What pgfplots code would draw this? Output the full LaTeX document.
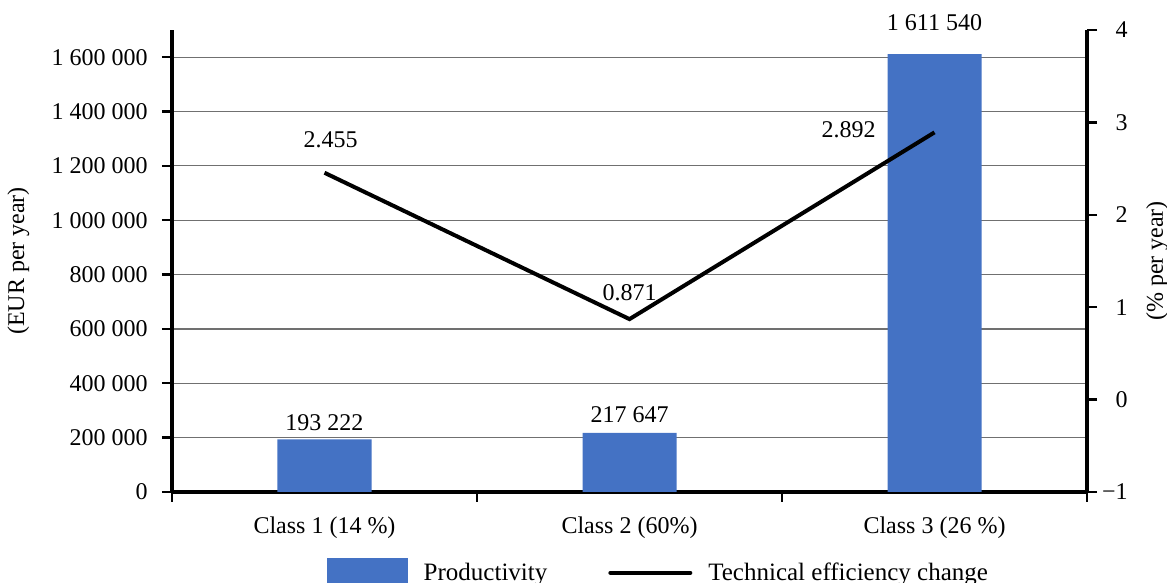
\documentclass[border=0pt]{standalone}
\usepackage{fontspec}
\setmainfont{Liberation Serif}
\usepackage{pgfplots}
\pgfplotsset{compat=1.18}
\definecolor{barblue}{HTML}{4472C4}
\definecolor{gridgray}{HTML}{707070}

\begin{document}
\begin{tikzpicture}[font=\fontsize{12}{14}\selectfont]
\clip (0,0) rectangle (583.5pt,291.5pt);
\pgfplotsset{
  common/.style={
    scale only axis, width=457.5pt, height=231pt,
    at={(86pt,45.5pt)}, anchor=south west,
    xmin=-0.5, xmax=2.5, clip=false,
    tick align=outside,
    major tick length=5pt,
    every tick/.style={black, line width=1.2pt},
    axis line style={black, line width=1.6pt},
    /pgf/number format/assume math mode=true,
  }
}
% left axis: productivity bars
\begin{axis}[common,
  axis x line*=bottom, axis y line*=left,
  ymin=0, ymax=1700000, scaled y ticks=false,
  ytick={0,200000,...,1600000},
  yticklabels={0,200 000,400 000,600 000,800 000,1 000 000,1 200 000,1 400 000,1 600 000},
  yticklabel style={anchor=east, inner sep=0pt, xshift=-7pt},
  ymajorgrids, grid style={gridgray, line width=0.6pt},
  xtick={-0.5,0.5,1.5,2.5}, xticklabels={},
  extra x ticks={0,1,2},
  extra x tick labels={Class 1 (14 \%),Class 2 (60\%),Class 3 (26 \%)},
  extra x tick style={major tick length=0pt,
    xticklabel style={anchor=north, inner sep=0pt, yshift=-12pt}},
  ylabel={(EUR per year)},
  ylabel style={at={(axis description cs:-0.168,0.5)}, anchor=center, rotate=0},
]
\addplot[ybar, bar width=47pt, fill=barblue, draw=none]
  coordinates {(0,193222) (1,217647) (2,1611540)};
\node[anchor=center, yshift=8.25pt] at (axis cs:0,193222) {193 222};
\node[anchor=center, yshift=9pt] at (axis cs:1,217647) {217 647};
\node[anchor=center, yshift=15.5pt] at (axis cs:2,1611540) {1 611 540};
\end{axis}
% right axis: technical efficiency change
\begin{axis}[common,
  axis x line=none, axis y line*=right,
  ymin=-1, ymax=4, ytick={-1,0,...,4},
  yticklabels={−1,0,1,2,3,4},
  yticklabel style={anchor=east, inner sep=0pt, xshift=15.5pt},
  ylabel={(\% per year)},
  ylabel style={at={(axis description cs:1.0765,0.5)}, anchor=center, rotate=0},
  legend columns=2,
  legend style={at={(axis description cs:0.5327,-0.175)}, anchor=center,
    draw=none, fill=none, font=\fontsize{12.5}{14}\selectfont,
    /tikz/every odd column/.append style={column sep=6pt},
    /tikz/every even column/.append style={column sep=28.5pt}},
]
\addlegendimage{legend image code/.code={\fill[barblue] (0pt,-7pt) rectangle (40pt,7pt);}}
\addlegendentry{Productivity}
\addplot[black, line width=2pt, mark=none,
  legend image code/.code={\draw[black, line width=2pt, line cap=round] (0pt,0pt) -- (40pt,0pt);}]
  coordinates {(0,2.455) (1,0.871) (2,2.892)};
\addlegendentry{Technical efficiency change}
\node[anchor=center, xshift=3pt, yshift=16.5pt] at (axis cs:0,2.455) {2.455};
\node[anchor=center, yshift=13pt] at (axis cs:1,0.871) {0.871};
\node[anchor=center, xshift=-43pt, yshift=1.5pt] at (axis cs:2,2.892) {2.892};
\end{axis}
\end{tikzpicture}
\end{document}
